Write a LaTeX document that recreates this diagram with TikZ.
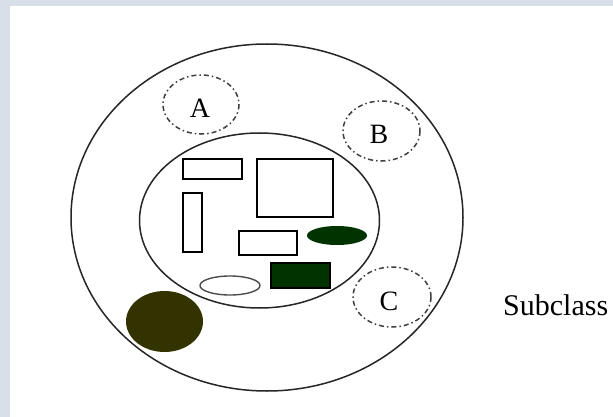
\documentclass[tikz,border=0pt]{standalone}
\usepackage{fontspec}
\setmainfont{Liberation Serif}

\definecolor{paneblue}{RGB}{216,223,233}
\definecolor{leafgreen}{RGB}{0,51,0}
\definecolor{darkolive}{RGB}{51,51,0}

\begin{document}
\begin{tikzpicture}[x=1pt, y=-1pt,
    ring/.style={draw=black!85, line width=1.5pt},
    box/.style={draw=black, line width=1.6pt, fill=white},
    subset/.style={draw=black!75, line width=1.5pt,
        dash pattern=on 5pt off 3pt on 1.5pt off 3pt},
    lbl/.style={font=\fontsize{28}{32}\selectfont, inner sep=0pt, anchor=base}]
    % frame
    \fill[paneblue] (0,0) rectangle (613,417);
    \fill[white] (10,6) rectangle (613,417);
    \useasboundingbox (0,0) rectangle (613,417);

    % class and subclass
    \draw[ring] (267,217.5) ellipse [x radius=196, y radius=173.5];
    \draw[ring] (259.5,220.5) ellipse [x radius=120, y radius=87.5];

    % dash-dot subsets
    \draw[subset] (201,104.5) ellipse [x radius=38, y radius=29.5];
    \draw[subset] (381.5,131) ellipse [x radius=38.5, y radius=30];
    \draw[subset] (392,297) ellipse [x radius=39, y radius=30];
    \node[lbl] (la) at (200,118) {A};
    \node[lbl] (lb) at (379,144) {B};
    \node[lbl] (lc) at (389,310) {C};

    % members of the subclass
    \draw[box] (183,159) rectangle (242,179);
    \draw[box] (257,159) rectangle (333,217);
    \draw[box] (183,193) rectangle (202,252);
    \draw[box] (239,231) rectangle (297,255);
    \draw[box, fill=leafgreen] (271,263) rectangle (330,288);
    \fill[leafgreen] (337,235.5) ellipse [x radius=30, y radius=9.5];
    \draw[draw=black!70, line width=1.4pt] (230,285.5) ellipse [x radius=30, y radius=9.5];

    % loose member of the class
    \fill[darkolive] (164.5,321.5) ellipse [x radius=38.5, y radius=30.5];

    \node[font=\fontsize{30}{34}\selectfont, inner sep=0pt, anchor=base west]
        (sub) at (503,315) {Subclass};
\end{tikzpicture}
\end{document}
